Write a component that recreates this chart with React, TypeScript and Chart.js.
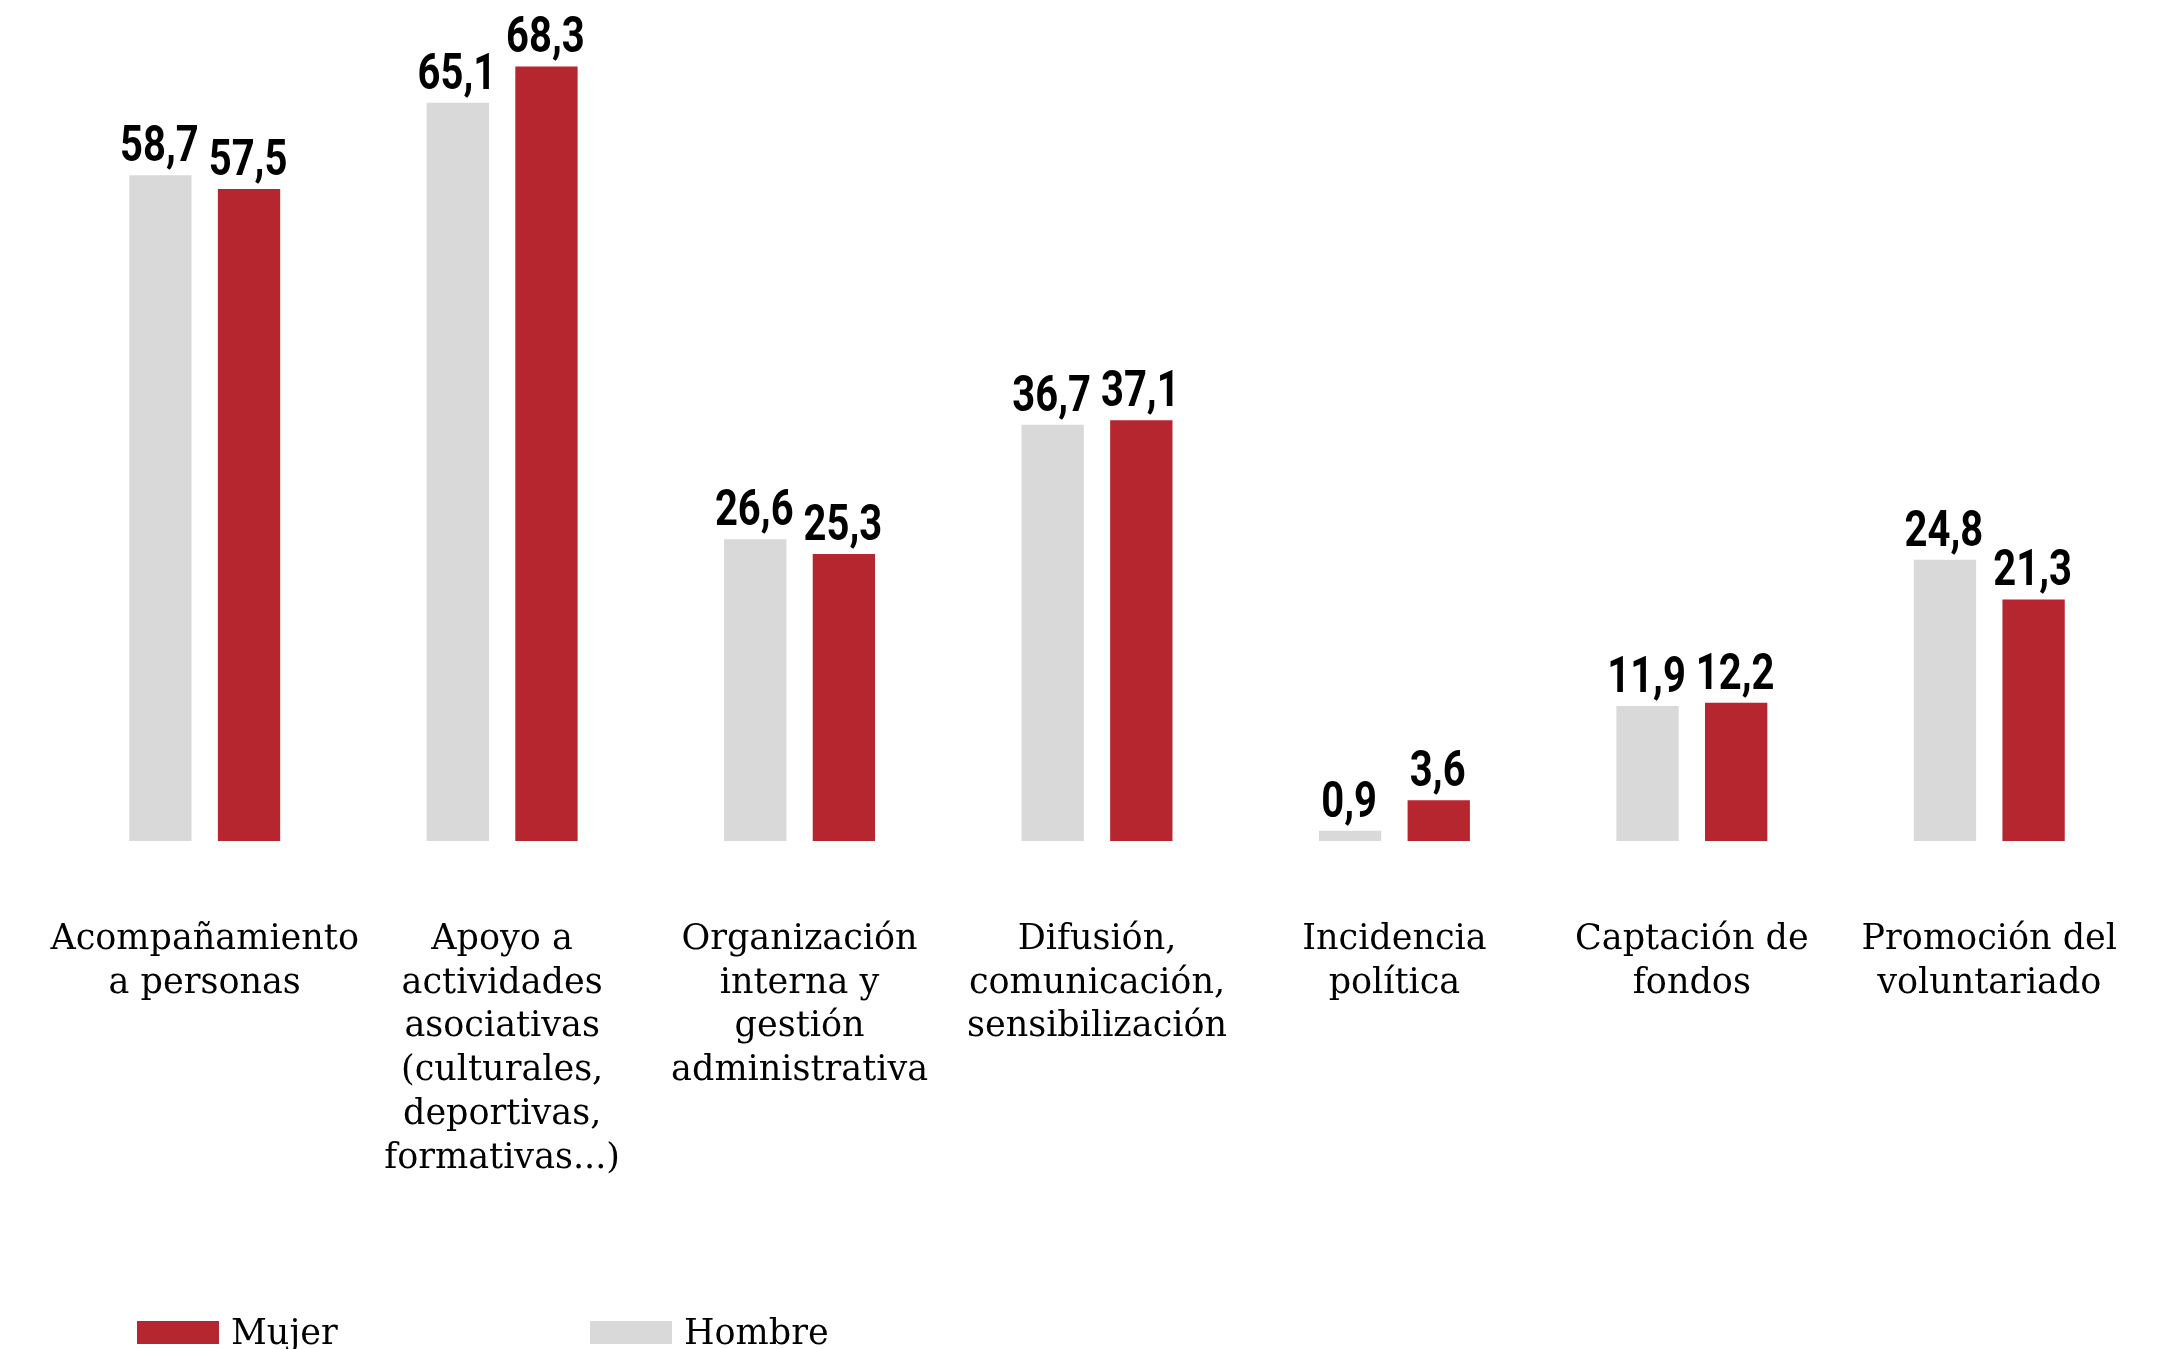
import React, { useEffect, useRef } from "react";
import { Chart, registerables } from "chart.js";

Chart.register(...registerables);

const categories: string[][] = [
  ["Acompañamiento", "a personas"],
  ["Apoyo a", "actividades", "asociativas", "(culturales,", "deportivas,", "formativas...)"],
  ["Organización", "interna y", "gestión", "administrativa"],
  ["Difusión,", "comunicación,", "sensibilización"],
  ["Incidencia", "política"],
  ["Captación de", "fondos"],
  ["Promoción del", "voluntariado"],
];

const hombreValues = [58.7, 65.1, 26.6, 36.7, 0.9, 11.9, 24.8];
const mujerValues = [57.5, 68.3, 25.3, 37.1, 3.6, 12.2, 21.3];

const seriesNames = ["Hombre", "Mujer"];
const RED = "#b5262e";
const GRAY = "#d9d9d9";
const SERIF = "'DejaVu Serif', serif";

const valueLabels = {
  id: "valueLabels",
  afterDatasetsDraw(chart: any) {
    const ctx = chart.ctx;
    chart.data.datasets.forEach((ds: any, i: number) => {
      const meta = chart.getDatasetMeta(i);
      meta.data.forEach((bar: any, j: number) => {
        const v = ds.data[j] as number;
        const txt = v.toFixed(1).replace(".", ",");
        ctx.save();
        ctx.font = "bold 50px Roboto, 'Liberation Sans', sans-serif";
        ctx.fillStyle = "#000";
        ctx.textAlign = "center";
        ctx.textBaseline = "alphabetic";
        ctx.translate(bar.x - 1, bar.y - 14);
        ctx.scale(0.8, 1);
        ctx.fillText(txt, 0, 0);
        ctx.restore();
      });
    });
  },
};

const customLegend = {
  id: "customLegend",
  afterDraw(chart: any) {
    const ctx = chart.ctx;
    const items = [...chart.data.datasets].reverse();
    const starts = [137, 590];
    const y = 1333;
    items.forEach((ds: any, k: number) => {
      const x = starts[k];
      ctx.save();
      ctx.fillStyle = ds.backgroundColor;
      ctx.fillRect(x, y - 12, 82, 23);
      ctx.fillStyle = "#000";
      ctx.font = `35px ${SERIF}`;
      ctx.textAlign = "left";
      ctx.textBaseline = "middle";
      ctx.fillText(ds.label, x + 94, y + 2);
      ctx.restore();
    });
  },
};

export default function App() {
  const ref = useRef<HTMLCanvasElement | null>(null);
  useEffect(() => {
    if (!ref.current) return;
    const chart = new Chart(ref.current, {
      type: "bar",
      data: {
        labels: categories,
        datasets: [
          {
            label: seriesNames[0],
            data: hombreValues,
            backgroundColor: GRAY,
            categoryPercentage: 0.596,
            barPercentage: 0.703,
          },
          {
            label: seriesNames[1],
            data: mujerValues,
            backgroundColor: RED,
            categoryPercentage: 0.596,
            barPercentage: 0.703,
          },
        ],
      },
      options: {
        responsive: false,
        animation: false,
        devicePixelRatio: 1,
        layout: { padding: { left: 56, right: 35, top: 24.5, bottom: 0 } },
        plugins: {
          legend: { display: false },
          tooltip: { enabled: false },
          title: { display: false },
        },
        scales: {
          x: {
            grid: { display: false, drawTicks: false },
            border: { display: false },
            ticks: {
              padding: 77,
              color: "#000",
              maxRotation: 0,
              minRotation: 0,
              autoSkip: false,
              font: { family: SERIF, size: 35, lineHeight: 1.25 },
            },
            afterFit: (scale: any) => {
              scale.height = 508;
              scale.paddingLeft = 0;
              scale.paddingRight = 0;
            },
          },
          y: {
            display: false,
            min: 0,
            max: 72,
          },
        },
      },
      plugins: [valueLabels, customLegend],
    });
    return () => chart.destroy();
  }, []);
  return (
    <div style={{ position: "absolute", left: 0, top: 0, width: 2173, height: 1349, background: "#fff" }}>
      <canvas ref={ref} width={2173} height={1349} style={{ width: 2173, height: 1349, display: "block" }} />
    </div>
  );
}
